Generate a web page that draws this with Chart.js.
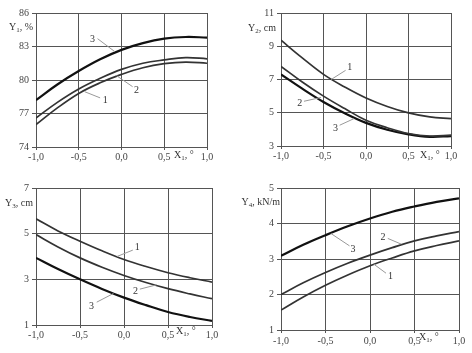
<!DOCTYPE html>
<html>
<head>
<meta charset="utf-8">
<script src="https://cdn.jsdelivr.net/npm/chart.js@4.4.1/dist/chart.umd.min.js"></script>
<style>
  body { margin: 0; background: #fff; }
  #wrap { position: relative; width: 472px; height: 353px; overflow: hidden; font-family: "Liberation Serif", serif; color: #333; }
  canvas { position: absolute; }
  .t { position: absolute; font-size: 10px; white-space: nowrap; line-height: 12px; }
  .t sub { font-size: 7px; vertical-align: -2px; line-height: 0; }
  .r { text-align: right; }
</style>
</head>
<body>
<div id="wrap">
  <canvas id="c1" width="236" height="176" style="left:0;top:0"></canvas>
  <canvas id="c2" width="236" height="176" style="left:236px;top:0"></canvas>
  <canvas id="c3" width="236" height="177" style="left:0;top:176px"></canvas>
  <canvas id="c4" width="236" height="177" style="left:236px;top:176px"></canvas>

  <div class="t r" style="left:0;width:33px;top:21px">Y<sub>1</sub>, %</div>
  <div class="t r" style="left:230px;width:46px;top:22px">Y<sub>2</sub>, cm</div>
  <div class="t r" style="left:0;width:33px;top:197px">Y<sub>3</sub>, cm</div>
  <div class="t r" style="left:226px;width:54px;top:196px">Y<sub>4</sub>, kN/m</div>

  <div class="t" style="left:174px;top:149px">X<sub>1</sub>, °</div>
  <div class="t" style="left:420px;top:149px">X<sub>1</sub>, °</div>
  <div class="t" style="left:176px;top:325px">X<sub>1</sub>, °</div>
  <div class="t" style="left:419px;top:331px">X<sub>1</sub>, °</div>
</div>
<script>
// coded factor X1
const xs = [-1, -0.75, -0.5, -0.25, 0, 0.25, 0.5, 0.75, 1];
const xTicks = [-1, -0.5, 0, 0.5, 1];

// Y1, %
const y1c1 = [76.0, 77.5, 78.8, 79.75, 80.5, 81.1, 81.46, 81.6, 81.5];
const y1c2 = [76.6, 78.0, 79.2, 80.15, 80.95, 81.5, 81.8, 82.0, 81.9];
const y1c3 = [78.2, 79.6, 80.8, 81.85, 82.7, 83.3, 83.7, 83.85, 83.8];

// Y2, cm
const y2c1 = [9.36, 8.3, 7.31, 6.55, 5.89, 5.38, 4.99, 4.75, 4.65];
const y2c2 = [7.79, 6.85, 6.0, 5.25, 4.55, 4.1, 3.75, 3.6, 3.65];
const y2c3 = [7.31, 6.45, 5.65, 4.97, 4.39, 3.98, 3.7, 3.55, 3.6];

// Y3, cm
const y3c1 = [5.65, 5.12, 4.67, 4.25, 3.87, 3.56, 3.29, 3.07, 2.88];
const y3c2 = [4.96, 4.42, 3.94, 3.53, 3.17, 2.86, 2.59, 2.36, 2.15];
const y3c3 = [3.94, 3.45, 3.0, 2.58, 2.2, 1.87, 1.57, 1.35, 1.18];

// Y4, kN/m
const y4c1 = [1.56, 1.93, 2.26, 2.55, 2.81, 3.03, 3.23, 3.38, 3.51];
const y4c2 = [2.0, 2.33, 2.62, 2.88, 3.11, 3.32, 3.51, 3.65, 3.77];
const y4c3 = [3.09, 3.4, 3.67, 3.92, 4.14, 4.33, 4.48, 4.61, 4.71];

// curve number callouts: [text, textX, textY, fromX, fromY, toX, toY] in data units
const y1Notes = [['3', -0.34, 83.6, -0.28, 83.7, -0.08, 82.55], ['2', 0.175, 79.1, 0.13, 79.4, -0.06, 80.4], ['1', -0.19, 78.2, -0.25, 78.4, -0.43, 78.95]];
const y2Notes = [['1', -0.19, 7.75, -0.24, 7.55, -0.41, 7.0], ['2', -0.78, 5.55, -0.73, 5.69, -0.53, 5.92], ['3', -0.36, 4.05, -0.31, 4.25, -0.14, 4.65]];
const y3Notes = [['1', 0.15, 4.41, 0.1, 4.28, -0.08, 4.0], ['2', 0.13, 2.49, 0.18, 2.57, 0.37, 2.76], ['3', -0.37, 1.83, -0.31, 2.0, -0.12, 2.38]];
const y4Notes = [['3', -0.19, 3.28, -0.23, 3.37, -0.44, 3.72], ['2', 0.145, 3.6, 0.2, 3.58, 0.35, 3.42], ['1', 0.23, 2.52, 0.18, 2.6, 0.04, 2.86]];

function pts(ys) {
  return xs.map((x, i) => ({ x: x, y: ys[i] }));
}

var calloutPlugin = {
  id: 'callouts',
  afterDatasetsDraw(chart, args, opts) {
    var c = chart.ctx, sx = chart.scales.x, sy = chart.scales.y;
    c.save();
    c.strokeStyle = '#999';
    c.lineWidth = 1;
    c.fillStyle = '#333';
    c.font = '10px "Liberation Serif"';
    c.textAlign = 'center';
    c.textBaseline = 'middle';
    opts.notes.forEach(function (n) {
      c.beginPath();
      c.moveTo(sx.getPixelForValue(n[3]), sy.getPixelForValue(n[4]));
      c.lineTo(sx.getPixelForValue(n[5]), sy.getPixelForValue(n[6]));
      c.stroke();
      c.fillText(n[0], sx.getPixelForValue(n[1]), sy.getPixelForValue(n[2]));
    });
    c.restore();
  }
};

function makeChart(id, series, yMin, yMax, yStep, notes, area) {
  var cv = document.getElementById(id);
  var W = cv.width, H = cv.height;
  var tickFont = { family: '"Liberation Serif"', size: 10 };
  return new Chart(cv, {
    type: 'line',
    data: {
      datasets: series.map(function (s, i) {
        return {
          data: pts(s),
          borderColor: i === 2 ? '#111' : '#333',
          borderWidth: i === 2 ? 2.2 : 1.7,
          pointRadius: 0,
          tension: 0.4,
          fill: false
        };
      })
    },
    options: {
      responsive: false,
      animation: false,
      devicePixelRatio: 1,
      layout: { padding: { left: 0, top: area.top, right: W - area.right, bottom: 0 } },
      plugins: { legend: { display: false }, tooltip: { enabled: false }, callouts: { notes: notes } },
      scales: {
        x: {
          type: 'linear', min: -1, max: 1,
          afterBuildTicks: function (s) { s.ticks = xTicks.map(function (v) { return { value: v }; }); },
          ticks: {
            font: tickFont, color: '#444', padding: area.xPad, maxRotation: 0,
            callback: function (v) { return v.toFixed(1).replace('.', ','); }
          },
          grid: { color: '#555', lineWidth: 1, tickLength: 3 },
          border: { color: '#555' },
          afterFit: function (s) { s.height = H - area.bottom; }
        },
        y: {
          min: yMin, max: yMax,
          ticks: { stepSize: yStep, font: tickFont, color: '#444', padding: 3 },
          grid: { color: '#555', lineWidth: 1, tickLength: 4 },
          border: { color: '#555' },
          afterFit: function (s) { s.width = area.left; }
        }
      }
    },
    plugins: [calloutPlugin]
  });
}

makeChart('c1', [y1c1, y1c2, y1c3], 74, 86, 3, y1Notes, { left: 36, right: 207, top: 13, bottom: 147, xPad: 1 });
makeChart('c2', [y2c1, y2c2, y2c3], 3, 11, 2, y2Notes, { left: 45, right: 215, top: 13, bottom: 146, xPad: 1 });
makeChart('c3', [y3c1, y3c2, y3c3], 1, 7, 2, y3Notes, { left: 36, right: 212, top: 12, bottom: 149, xPad: 1 });
makeChart('c4', [y4c1, y4c2, y4c3], 1, 5, 1, y4Notes, { left: 45, right: 223, top: 12, bottom: 154, xPad: 2 });
</script>
</body>
</html>
